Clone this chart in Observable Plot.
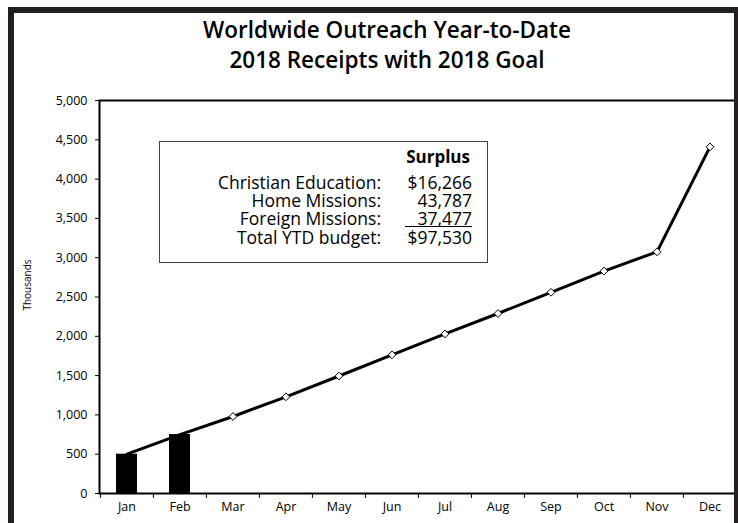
<!DOCTYPE html>
<html>
<head>
<meta charset="utf-8">
<script src="https://cdn.jsdelivr.net/npm/d3@7"></script>
<script src="https://cdn.jsdelivr.net/npm/@observablehq/plot@0.6"></script>
<style>
  body { margin: 0; background: #fff; }
  #wrap { position: relative; width: 738px; height: 523px; overflow: hidden; font-family: "Open Sans", "Noto Sans", sans-serif; color: #000; }
  #chart { position: absolute; left: 0; top: 0; }
  #frame { position: absolute; left: 8px; top: 7px; width: 732px; height: 600px; border: 6px solid #231f20; box-sizing: border-box; pointer-events: none; z-index: 5; }
  .title { position: absolute; left: 187px; width: 400px; text-align: center; font-weight: 600; font-size: 22.5px; line-height: 26px; white-space: nowrap; z-index: 3; }
  #ylab { position: absolute; left: 27px; top: 285px; transform: translate(-50%, -50%) rotate(-90deg); font-size: 10px; white-space: nowrap; z-index: 3; }
  #legend { position: absolute; left: 159px; top: 141px; width: 329px; height: 122px; border: 1px solid #444; box-sizing: border-box; background: #fff; z-index: 3; font-size: 17.5px; }
  #legend .lab { position: absolute; right: 106px; text-align: right; white-space: nowrap; line-height: 18px; }
  #legend .val { position: absolute; right: 15px; text-align: right; white-space: nowrap; line-height: 18px; }
  #legend .head { position: absolute; right: 17px; top: 6px; font-weight: 700; line-height: 18px; font-size: 17px; }
  #legend .ul { border-bottom: 1.5px solid #000; padding-left: 12px; display: inline-block; line-height: 16px; }
</style>
</head>
<body>
<div id="wrap">
  <div id="chart"></div>
  <div class="title" id="t1" style="top:17px"></div>
  <div class="title" id="t2" style="top:47px"></div>
  <div id="ylab"></div>
  <div id="legend"></div>
  <div id="frame"></div>
</div>
<script>
// ---- data ----
const titleLines = ["Worldwide Outreach Year-to-Date", "2018 Receipts with 2018 Goal"];
const yAxisLabel = "Thousands";
const months = ["Jan", "Feb", "Mar", "Apr", "May", "Jun", "Jul", "Aug", "Sep", "Oct", "Nov", "Dec"];
const receipts = [500, 750, null, null, null, null, null, null, null, null, null, null];
const goal = [500, 750, 980, 1230, 1495, 1765, 2030, 2290, 2560, 2830, 3075, 4410];
const yTicks = [0, 500, 1000, 1500, 2000, 2500, 3000, 3500, 4000, 4500, 5000];
const legendHeader = "Surplus";
const legendLabels = ["Christian Education:", "Home Missions:", "Foreign Missions:", "Total YTD budget:"];
const legendValues = ["$16,266", "43,787", "37,477", "$97,530"];

// ---- text ----
document.getElementById("t1").textContent = titleLines[0];
document.getElementById("t2").textContent = titleLines[1];
document.getElementById("ylab").textContent = yAxisLabel;

const legend = document.getElementById("legend");
const head = document.createElement("div");
head.className = "head";
head.textContent = legendHeader;
legend.appendChild(head);
const rowTops = [31, 49, 67, 86];
legendLabels.forEach((lab, i) => {
  const l = document.createElement("div");
  l.className = "lab";
  l.style.top = rowTops[i] + "px";
  l.textContent = lab;
  legend.appendChild(l);
  const v = document.createElement("div");
  v.className = "val";
  v.style.top = rowTops[i] + "px";
  if (i === 2) {
    const s = document.createElement("span");
    s.className = "ul";
    s.textContent = legendValues[i];
    v.appendChild(s);
  } else {
    v.textContent = legendValues[i];
  }
  legend.appendChild(v);
});

// ---- chart ----
const data = months.map((m, i) => ({month: m, receipts: receipts[i], goal: goal[i]}));
const W = 738, H = 523, mL = 99, mR = 1, mT = 100, mB = 30;
const half = (W - mL - mR) / months.length / 2;

const chart = Plot.plot({
  width: W,
  height: H,
  marginLeft: mL,
  marginRight: mR,
  marginTop: mT,
  marginBottom: mB,
  style: {fontFamily: "'Open Sans', 'Noto Sans', sans-serif", fontSize: "12.5px", color: "#000", background: "transparent"},
  x: {domain: months, padding: 0, label: null},
  y: {domain: [0, 5000], label: null},
  marks: [
    Plot.axisY({ticks: yTicks, tickSize: 4, tickPadding: 8, tickFormat: d3.format(","), label: null}),
    Plot.axisX({tickSize: 5, tickFormat: () => "", dx: -half, label: null}),
    Plot.axisX({tickSize: 0, tickPadding: 9, label: null}),
    Plot.line(data, {x: "month", y: "goal", stroke: "#000", strokeWidth: 3}),
    Plot.dot(data.filter(d => d.receipts == null), {x: "month", y: "goal", symbol: "diamond2", r: 3.5, fill: "#fff", stroke: "#000", strokeWidth: 1}),
    Plot.barY(data.filter(d => d.receipts != null), {x: "month", y: "receipts", fill: "#000", insetLeft: 16, insetRight: 16}),
    Plot.frame({stroke: "#000", strokeWidth: 2})
  ]
});
document.getElementById("chart").appendChild(chart);
</script>
</body>
</html>
